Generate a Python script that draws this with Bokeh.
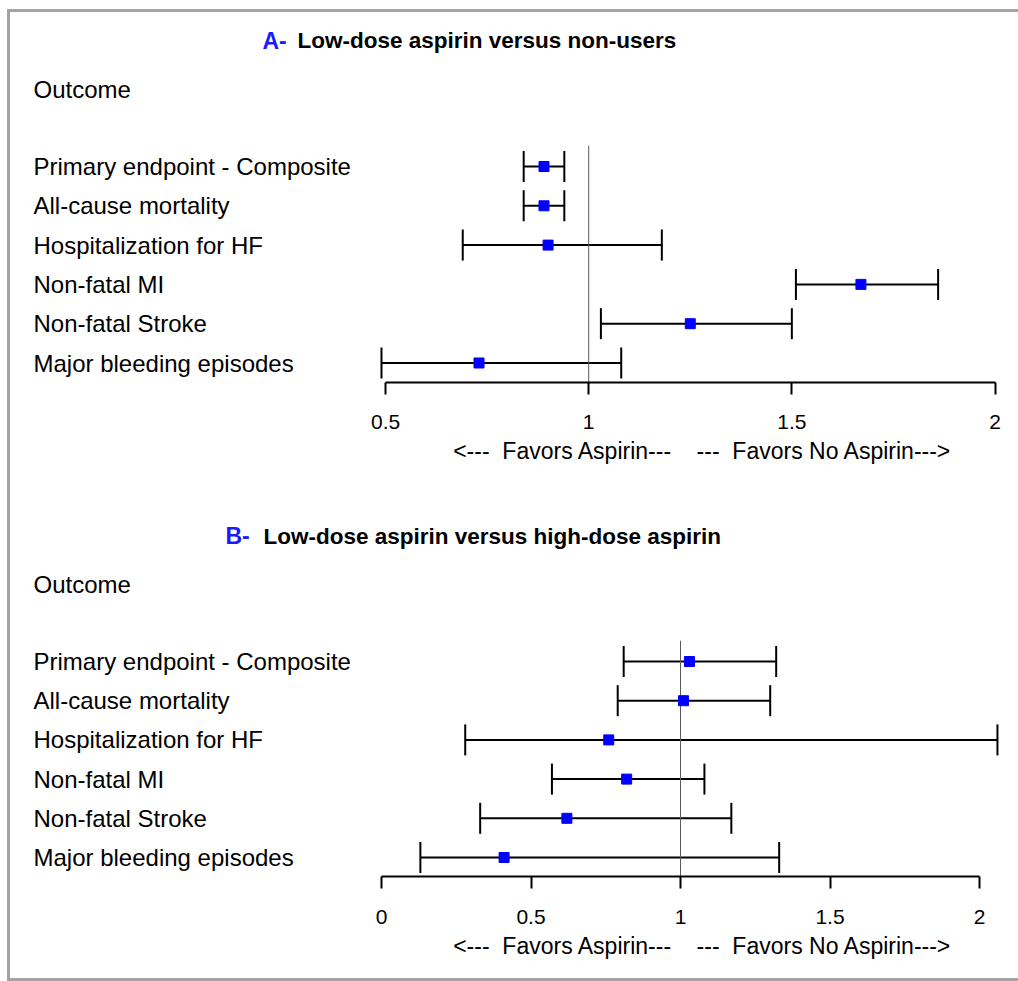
from bokeh.plotting import figure
from bokeh.models import (ColumnDataSource, Whisker, TeeHead, Range1d,
                          FixedTicker, LinearAxis, LabelSet, Label)
from bokeh.layouts import column
from bokeh.core.properties import value
from bokeh.embed import file_html
from bokeh.resources import INLINE

# ---------------- data ----------------
outcomes = ["Primary endpoint - Composite", "All-cause mortality",
            "Hospitalization for HF", "Non-fatal MI", "Non-fatal Stroke",
            "Major bleeding episodes"]

a_letter = "A-"
a_title = "Low-dose aspirin versus non-users"
a_est = [0.89, 0.89, 0.90, 1.67, 1.25, 0.73]
a_lo = [0.84, 0.84, 0.69, 1.51, 1.03, 0.49]
a_hi = [0.94, 0.94, 1.18, 1.86, 1.50, 1.08]
a_ticks = [0.5, 1, 1.5, 2]
a_tick_labels = ["0.5", "1", "1.5", "2"]

b_letter = "B-"
b_title = "Low-dose aspirin versus high-dose aspirin"
b_est = [1.03, 1.01, 0.76, 0.82, 0.62, 0.41]
b_lo = [0.81, 0.79, 0.28, 0.57, 0.33, 0.13]
b_hi = [1.32, 1.30, 2.06, 1.08, 1.17, 1.33]
b_ticks = [0, 0.5, 1, 1.5, 2]
b_tick_labels = ["0", "0.5", "1", "1.5", "2"]

null_value = 1
header = "Outcome"
xlab = "<---\u00a0\u00a0Favors Aspirin---\u00a0\u00a0\u00a0\u00a0---\u00a0\u00a0Favors No Aspirin--->"

FONT_NAME = "Liberation Sans"
W = 1008
ROW_TOP, ROW_AXIS = 0.47, 6.49      # extent of the forest area in row units
HEADER_ROW, TITLE_ROW = -0.96, -2.2


def panel(letter, title, est, lo, hi, ticks, tick_labels,
          ref_px, ppu, height, row1_px, row_px, letter_x, title_x, xlab_row):
    p = figure(width=W, height=height,
               x_range=Range1d(1 - ref_px / ppu, 1 + (W - ref_px) / ppu),
               y_range=Range1d(1 + (height - row1_px) / row_px,
                               1 - row1_px / row_px),
               output_backend="svg", toolbar_location=None,
               x_axis_location=None, y_axis_location=None,
               min_border=0)
    p.outline_line_color = None
    p.xgrid.visible = False
    p.ygrid.visible = False
    p.background_fill_color = "white"
    p.border_fill_color = "white"

    rows = list(range(1, len(outcomes) + 1))
    src = ColumnDataSource(dict(row=rows, outcome=outcomes, est=est, lo=lo, hi=hi))

    # vertical line of no effect
    p.segment(x0=null_value, x1=null_value, y0=ROW_TOP, y1=ROW_AXIS,
              line_color="#5a5a5a", line_width=1)

    wk = Whisker(source=src, base="row", lower="lo", upper="hi",
                 dimension="width", line_color="black", line_width=2,
                 upper_head=TeeHead(size=31, line_width=2, line_color="black"),
                 lower_head=TeeHead(size=31, line_width=2, line_color="black"))
    p.add_layout(wk)

    p.scatter(x="est", y="row", source=src, marker="square", size=10,
              fill_color="#0000ff", line_color="#0000ff")

    axis = LinearAxis(ticker=FixedTicker(ticks=ticks),
                      bounds=(ticks[0], ticks[-1]),
                      fixed_location=ROW_AXIS,
                      major_label_overrides=dict(zip(ticks, tick_labels)))
    axis.axis_line_width = 2
    axis.axis_line_color = "black"
    axis.major_tick_line_width = 2
    axis.major_tick_out = 12
    axis.major_tick_in = 0
    axis.minor_tick_line_color = None
    axis.major_label_standoff = 21
    axis.major_label_text_font = FONT_NAME
    axis.major_label_text_font_size = "21px"
    axis.major_label_text_color = "black"
    p.add_layout(axis, "below")

    p.add_layout(LabelSet(x=23, x_units="screen", y="row", text="outcome",
                          source=src, text_font=value(FONT_NAME),
                          text_font_size="24px",
                          text_baseline="middle", text_color="black"))

    p.add_layout(Label(x=23, x_units="screen", y=HEADER_ROW, text=header,
                       text_font=FONT_NAME, text_font_size="24px",
                       text_baseline="middle", text_color="black"))

    p.add_layout(Label(x=letter_x, x_units="screen", y=TITLE_ROW, text=letter,
                       text_font=FONT_NAME, text_font_size="23px",
                       text_font_style="bold", text_baseline="middle",
                       text_color="#1a1aff"))
    p.add_layout(Label(x=title_x, x_units="screen", y=TITLE_ROW, text=title,
                       text_font=FONT_NAME, text_font_size="22.5px",
                       text_font_style="bold", text_baseline="middle",
                       text_color="black"))

    p.add_layout(Label(x=692.5, x_units="screen", y=xlab_row, text=xlab,
                       text_font=FONT_NAME, text_font_size="23px",
                       text_align="center", text_baseline="middle",
                       text_color="black"))
    return p


p1 = panel(a_letter, a_title, a_est, a_lo, a_hi, a_ticks, a_tick_labels,
           ref_px=578.2, ppu=406.3, height=478, row1_px=154, row_px=39.3,
           letter_x=252, title_x=287, xlab_row=8.23)
p2 = panel(b_letter, b_title, b_est, b_lo, b_hi, b_ticks, b_tick_labels,
           ref_px=670.0, ppu=299.0, height=488, row1_px=171, row_px=39.2,
           letter_x=215, title_x=253, xlab_row=8.27)

border = "3px solid #a3a3a6"
layout = column(p1, p2, margin=(9, 0, 0, 7),
                styles={"border-top": border, "border-left": border,
                        "border-bottom": border})

open("out.html", "w").write(file_html(layout, INLINE))
